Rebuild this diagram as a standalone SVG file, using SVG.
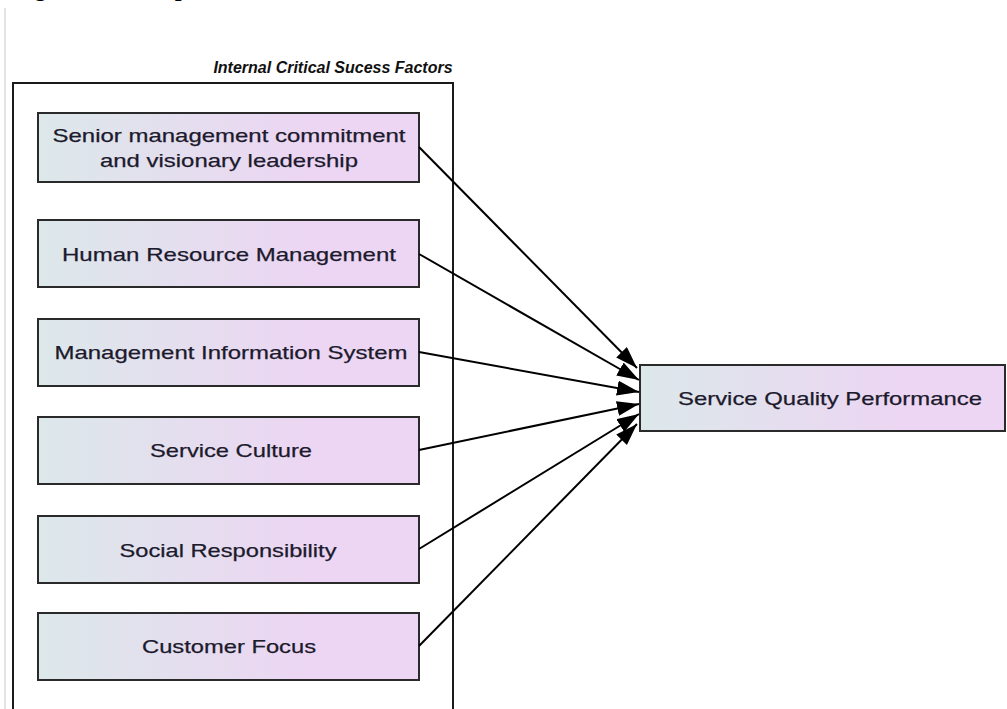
<svg xmlns="http://www.w3.org/2000/svg" width="1007" height="709" viewBox="0 0 1007 709">
  <defs>
    <linearGradient id="boxFill" x1="0" y1="0" x2="1" y2="0">
      <stop offset="0" stop-color="#dce8ea"/>
      <stop offset="0.7" stop-color="#ecd6f3"/>
      <stop offset="1" stop-color="#ecd6f3"/>
    </linearGradient>
    <marker id="arrow" markerUnits="userSpaceOnUse" markerWidth="24" markerHeight="16" refX="22" refY="7.5" orient="auto">
      <path d="M0,0 L22,7.5 L0,15 Z" fill="#000"/>
    </marker>
    <style>
      .box { fill: url(#boxFill); stroke: #2a2a2a; stroke-width: 2; }
      .label { font-family: "Liberation Sans", Arial, sans-serif; font-size: 19px; fill: #1c1a2c; stroke: #1c1a2c; stroke-width: 0.25; text-anchor: middle; }
      .title { font-family: "Liberation Sans", Arial, sans-serif; font-size: 16px; font-weight: bold; font-style: italic; fill: #111; text-anchor: middle; }
      .caption { font-family: "Liberation Serif", "Times New Roman", serif; font-size: 24px; font-weight: bold; font-style: italic; fill: #000; }
      .edge { stroke: #000; stroke-width: 2; fill: none; marker-end: url(#arrow); }
    </style>
  </defs>

  <rect width="1007" height="709" fill="#fff"/>

  <!-- figure caption (runs off the top edge) -->
  <text class="caption" x="14" y="-4.5">Figure 1: Conceptual Framework</text>

  <!-- page margin rule -->
  <line x1="5" y1="8" x2="5" y2="709" stroke="#e4e4e4" stroke-width="2"/>

  <!-- container of internal factors -->
  <g id="internal-factors">
    <text class="title" x="333" y="73">Internal Critical Sucess Factors</text>
    <path d="M13,709 V83 H453 V709" fill="none" stroke="#1a1a1a" stroke-width="2"/>
  </g>

  <g id="n-senior">
    <rect class="box" x="38" y="113" width="381" height="69"/>
    <text class="label" x="229" y="142" textLength="353" lengthAdjust="spacingAndGlyphs">Senior management commitment</text>
    <text class="label" x="229" y="167" textLength="258" lengthAdjust="spacingAndGlyphs">and visionary leadership</text>
  </g>
  <g id="n-hrm">
    <rect class="box" x="38" y="220" width="381" height="67"/>
    <text class="label" x="229" y="261" textLength="334" lengthAdjust="spacingAndGlyphs">Human Resource Management</text>
  </g>
  <g id="n-mis">
    <rect class="box" x="38" y="319" width="381" height="67"/>
    <text class="label" x="231" y="359" textLength="353" lengthAdjust="spacingAndGlyphs">Management Information System</text>
  </g>
  <g id="n-culture">
    <rect class="box" x="38" y="417" width="381" height="67"/>
    <text class="label" x="231" y="457" textLength="162" lengthAdjust="spacingAndGlyphs">Service Culture</text>
  </g>
  <g id="n-social">
    <rect class="box" x="38" y="516" width="381" height="67"/>
    <text class="label" x="228" y="557" textLength="217" lengthAdjust="spacingAndGlyphs">Social Responsibility</text>
  </g>
  <g id="n-customer">
    <rect class="box" x="38" y="613" width="381" height="67"/>
    <text class="label" x="229" y="653" textLength="174" lengthAdjust="spacingAndGlyphs">Customer Focus</text>
  </g>

  <g id="n-sqp">
    <rect class="box" x="640" y="365" width="365" height="66"/>
    <text class="label" x="830" y="405" textLength="304" lengthAdjust="spacingAndGlyphs">Service Quality Performance</text>
  </g>

  <g id="connectors">
    <line class="edge" x1="419" y1="147" x2="637" y2="368"/>
    <line class="edge" x1="419" y1="254" x2="639" y2="380"/>
    <line class="edge" x1="419" y1="352" x2="639" y2="392"/>
    <line class="edge" x1="419" y1="450" x2="639" y2="404"/>
    <line class="edge" x1="419" y1="549" x2="639" y2="414"/>
    <line class="edge" x1="419" y1="646" x2="637" y2="424"/>
  </g>
</svg>
